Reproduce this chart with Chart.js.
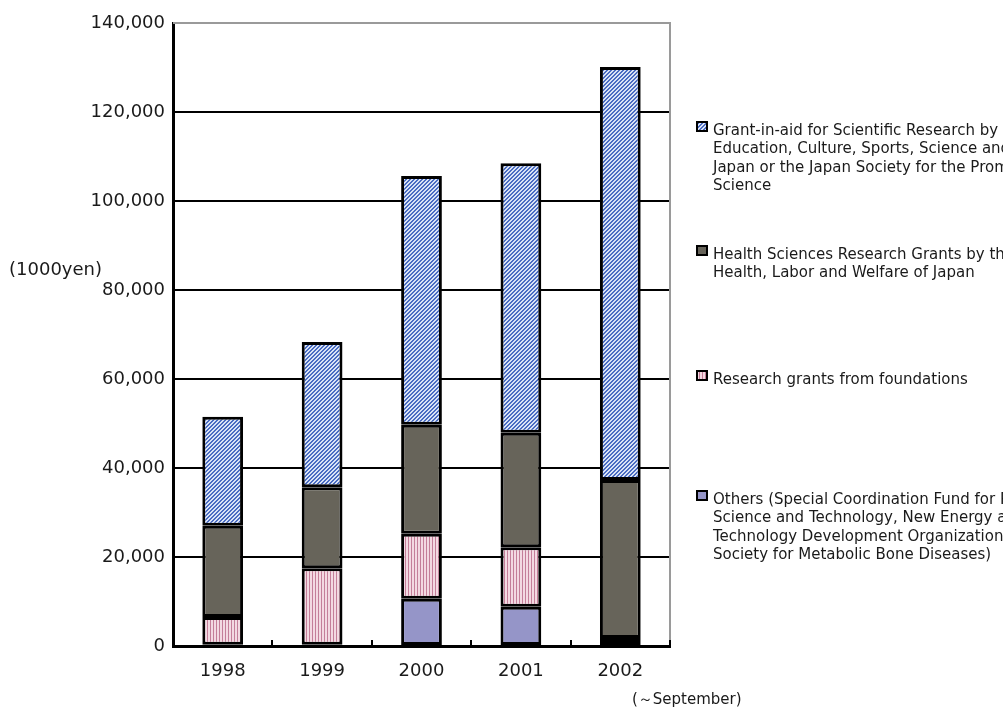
<!DOCTYPE html>
<html>
<head>
<meta charset="utf-8">
<script src="https://cdn.jsdelivr.net/npm/chart.js@4"></script>
<style>
  html, body { margin: 0; padding: 0; background: #fff; }
  #wrap { width: 1003px; height: 708px; position: relative; }
</style>
</head>
<body>
<div id="wrap"><canvas id="grantChart" width="1003" height="708"></canvas></div>
<script>
// years on the x axis
const years = ['1998', '1999', '2000', '2001', '2002'];

// amounts in 1000 yen
const others = [300, 300, 10600, 8800, 1100];
const foundations = [6200, 17200, 14600, 13400, 700];
const healthGrants = [20500, 18200, 24500, 25700, 35500];
const grantInAid = [24500, 32600, 55900, 60600, 92800];

const yTicks = [0, 20000, 40000, 60000, 80000, 100000, 120000, 140000];

// legend text, split the way the picture wraps it
const grantLines = ['Grant-in-aid for Scientific Research by the Ministry of',
  'Education, Culture, Sports, Science and Technology of',
  'Japan or the Japan Society for the Promotion of',
  'Science'];
const healthLines = ['Health Sciences Research Grants by the Ministry of',
  'Health, Labor and Welfare of Japan'];
const foundationLines = ['Research grants from foundations'];
const otherLines = ['Others (Special Coordination Fund for Promoting',
  'Science and Technology, New Energy and Industrial',
  'Technology Development Organization,',
  'Society for Metabolic Bone Diseases)'];

// small fill patterns like the original hatching
function makePattern(draw, w, h) {
  const c = document.createElement('canvas');
  c.width = w; c.height = h;
  const g = c.getContext('2d');
  draw(g);
  return g.createPattern(c, 'repeat');
}

const blueHatch = makePattern(g => {
  for (let x = 0; x < 4; x++) {
    for (let y = 0; y < 4; y++) {
      g.fillStyle = ((x + y) % 4 < 2) ? '#4a6cc2' : '#d9e3f6';
      g.fillRect(x, y, 1, 1);
    }
  }
}, 4, 4);

const pinkStripe = makePattern(g => {
  g.fillStyle = '#f3d9e2';
  g.fillRect(0, 0, 3, 3);
  g.fillStyle = '#c47e99';
  g.fillRect(0, 0, 1, 3);
}, 3, 3);

const healthColor = '#67645a';
const otherColor = '#9595c8';

const font = "'DejaVu Sans', sans-serif";

// extra drawing: right/top frame, category ticks, legend, notes
const extras = {
  id: 'extras',
  beforeDatasetsDraw(chart) {
    const ctx = chart.ctx;
    const a = chart.chartArea;
    ctx.save();
    ctx.strokeStyle = '#9a9a9a';
    ctx.lineWidth = 2;
    ctx.beginPath();
    ctx.moveTo(a.left, a.top);
    ctx.lineTo(a.right, a.top);
    ctx.lineTo(a.right, a.bottom);
    ctx.stroke();
    ctx.restore();
  },
  afterDraw(chart) {
    const ctx = chart.ctx;
    const a = chart.chartArea;
    ctx.save();

    // little upward ticks between the years
    ctx.strokeStyle = '#000';
    ctx.lineWidth = 2;
    const step = (a.right - a.left) / years.length;
    for (let i = 1; i <= years.length; i++) {
      const x = Math.round(a.left + step * i);
      ctx.beginPath();
      ctx.moveTo(x, a.bottom);
      ctx.lineTo(x, a.bottom - 6);
      ctx.stroke();
    }

    ctx.fillStyle = '#1a1a1a';
    ctx.font = '18px ' + font;
    ctx.textBaseline = 'middle';
    ctx.textAlign = 'left';
    ctx.fillText('(1000yen)', 9, 270);
    ctx.font = '15px ' + font;
    ctx.fillText('(\uFF5ESeptember)', 632, 700);

    // legend
    const items = [
      { lines: grantLines, fill: blueHatch, y: 131 },
      { lines: healthLines, fill: healthColor, y: 255 },
      { lines: foundationLines, fill: pinkStripe, y: 380 },
      { lines: otherLines, fill: otherColor, y: 500 }
    ];
    ctx.font = '15px ' + font;
    items.forEach(it => {
      ctx.fillStyle = it.fill;
      ctx.fillRect(697, it.y - 9, 10, 9);
      ctx.strokeStyle = '#000';
      ctx.lineWidth = 2;
      ctx.strokeRect(697, it.y - 9, 10, 9);
      ctx.fillStyle = '#1a1a1a';
      it.lines.forEach((t, i) => ctx.fillText(t, 713, it.y + i * 18.5));
    });
    ctx.restore();
  }
};

const ctx = document.getElementById('grantChart').getContext('2d');
new Chart(ctx, {
  type: 'bar',
  data: {
    labels: years,
    datasets: [
      { label: 'Others', data: others, backgroundColor: otherColor },
      { label: 'Research grants from foundations', data: foundations, backgroundColor: pinkStripe },
      { label: 'Health Sciences Research Grants', data: healthGrants, backgroundColor: healthColor },
      { label: 'Grant-in-aid for Scientific Research', data: grantInAid, backgroundColor: blueHatch }
    ].map(d => Object.assign(d, {
      borderColor: '#000',
      borderWidth: 3,
      borderSkipped: false,
      categoryPercentage: 1,
      barPercentage: 0.41
    }))
  },
  options: {
    responsive: false,
    animation: false,
    layout: { padding: { top: 23, right: 333, left: 0, bottom: 0 } },
    plugins: {
      legend: { display: false },
      tooltip: { enabled: false }
    },
    scales: {
      x: {
        stacked: true,
        grid: { display: false, drawTicks: false },
        border: { color: '#000', width: 3 },
        ticks: { color: '#1a1a1a', font: { family: font, size: 18 }, padding: 15 },
        afterFit(s) { s.height = 62; }
      },
      y: {
        stacked: true,
        min: 0,
        max: 140000,
        afterBuildTicks(s) { s.ticks = yTicks.map(v => ({ value: v })); },
        grid: {
          drawTicks: false,
          lineWidth: 2,
          color: c => c.tick && c.tick.value === 140000 ? 'rgba(0,0,0,0)' : '#000'
        },
        border: { color: '#000', width: 3 },
        ticks: {
          color: '#1a1a1a',
          padding: 8,
          font: { family: font, size: 18 },
          callback: v => v.toLocaleString('en-US')
        },
        afterFit(s) { s.width = 173; }
      }
    }
  },
  plugins: [extras]
});
</script>
</body>
</html>
